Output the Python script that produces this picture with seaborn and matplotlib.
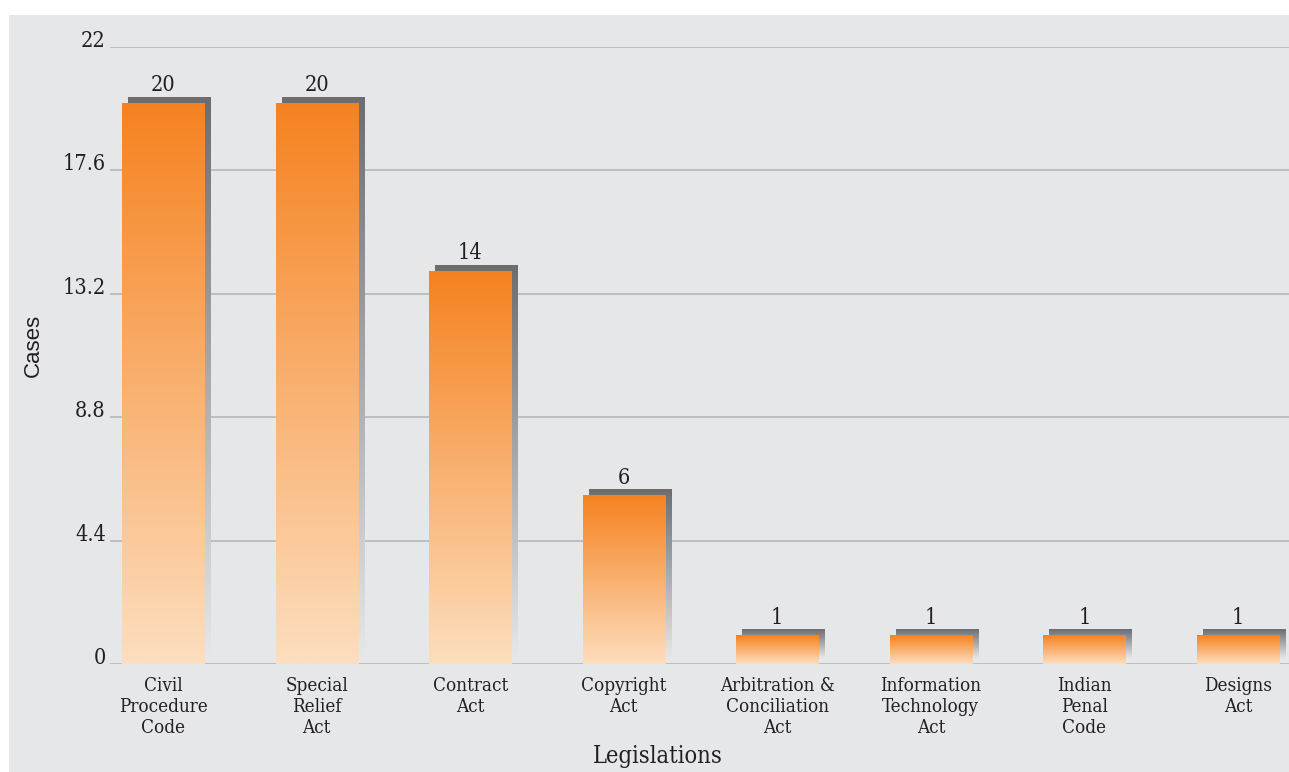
import numpy as np
import pandas as pd
import matplotlib
matplotlib.use("Agg")
import matplotlib.pyplot as plt
import matplotlib.transforms as mtransforms
from matplotlib.patches import Rectangle
import seaborn as sns

# ---- data ----
categories = ["Civil\nProcedure\nCode", "Special\nRelief\nAct", "Contract\nAct",
              "Copyright\nAct", "Arbitration &\nConciliation\nAct",
              "Information\nTechnology\nAct", "Indian\nPenal\nCode", "Designs\nAct"]
cases = [20, 20, 14, 6, 1, 1, 1, 1]
y_ticks = [0, 4.4, 8.8, 13.2, 17.6, 22]
y_tick_labels = ["0", "4.4", "8.8", "13.2", "17.6", "22"]

BG = "#e6e7e9"
TXT = "#231f20"
ORANGE_TOP = np.array([245, 130, 32]) / 255
ORANGE_BOT = np.array([253, 222, 190]) / 255
SHADOW_TOP = np.array([108, 109, 113]) / 255
SHADOW_BOT = np.array([230, 231, 233]) / 255

sns.set_theme(style="white")
plt.rcParams["font.family"] = ["DejaVu Serif"]
plt.rcParams["font.stretch"] = "condensed"

W, H = 1289, 772
fig = plt.figure(figsize=(W / 100, H / 100), dpi=100, facecolor="white")
fig.patches.append(Rectangle((9 / W, 0), 1, (H - 15) / H, transform=fig.transFigure,
                             facecolor=BG, edgecolor="none", zorder=-10))
ax = fig.add_axes([110 / W, 108 / H, 1 - 110 / W, (664 - 47) / H])
ax.set_facecolor("none")

df = pd.DataFrame({"Legislation": categories, "Cases": cases})
sns.barplot(data=df, x="Legislation", y="Cases", ax=ax, width=0.534,
            color=ORANGE_TOP, saturation=1, errorbar=None)


def grad(top, bot, n=256):
    t = np.linspace(0, 1, n)[:, None]
    arr = top[None, :] * (1 - t) + bot[None, :] * t
    return arr[:, None, :]


shadow_shift = ax.transData + mtransforms.ScaledTranslation(0.06, 0.06, fig.dpi_scale_trans)
for p, v in zip(ax.patches, cases):
    x0, w, h = p.get_x(), p.get_width(), p.get_height()
    p.set_visible(False)
    ax.imshow(grad(SHADOW_TOP, SHADOW_BOT), extent=(x0, x0 + w, 0, h), origin="upper",
              aspect="auto", transform=shadow_shift, zorder=2, interpolation="bilinear")
    ax.imshow(grad(ORANGE_TOP, ORANGE_BOT), extent=(x0, x0 + w, 0, h), origin="upper",
              aspect="auto", zorder=3, interpolation="bilinear")
    ax.annotate(str(v), (x0 + w / 2, h), xytext=(0, 5), textcoords="offset points",
                ha="center", va="bottom", fontsize=15.5, color=TXT, zorder=4)

ax.set_xlim(-0.345, 7.332)
ax.set_ylim(0, 22)
ax.set_yticks(y_ticks, y_tick_labels)
ax.yaxis.grid(True, color="#b7b8ba", lw=1.2, zorder=0)
ax.set_axisbelow(True)
for s in ax.spines.values():
    s.set_visible(False)
ax.tick_params(axis="y", length=0, pad=3, labelsize=15.5, labelcolor=TXT)
ax.tick_params(axis="x", length=0, pad=9.5, labelsize=13.5, labelcolor=TXT)
for t in ax.get_yticklabels():
    t.set_va("baseline")

ax.set_xlabel("Legislations", fontsize=17, color=TXT)
ax.xaxis.set_label_coords((658 - 110) / (W - 110), -(756 - 664) / (664 - 47))
ax.xaxis.label.set_va("center")
ax.set_ylabel("Cases", fontsize=16, color=TXT, family="Liberation Sans", stretch="normal")
ax.yaxis.set_label_coords(-(110 - 33) / (W - 110), (664 - 345) / (664 - 47))
ax.yaxis.label.set_va("center")

fig.savefig("out.png", dpi=100, facecolor="white")
